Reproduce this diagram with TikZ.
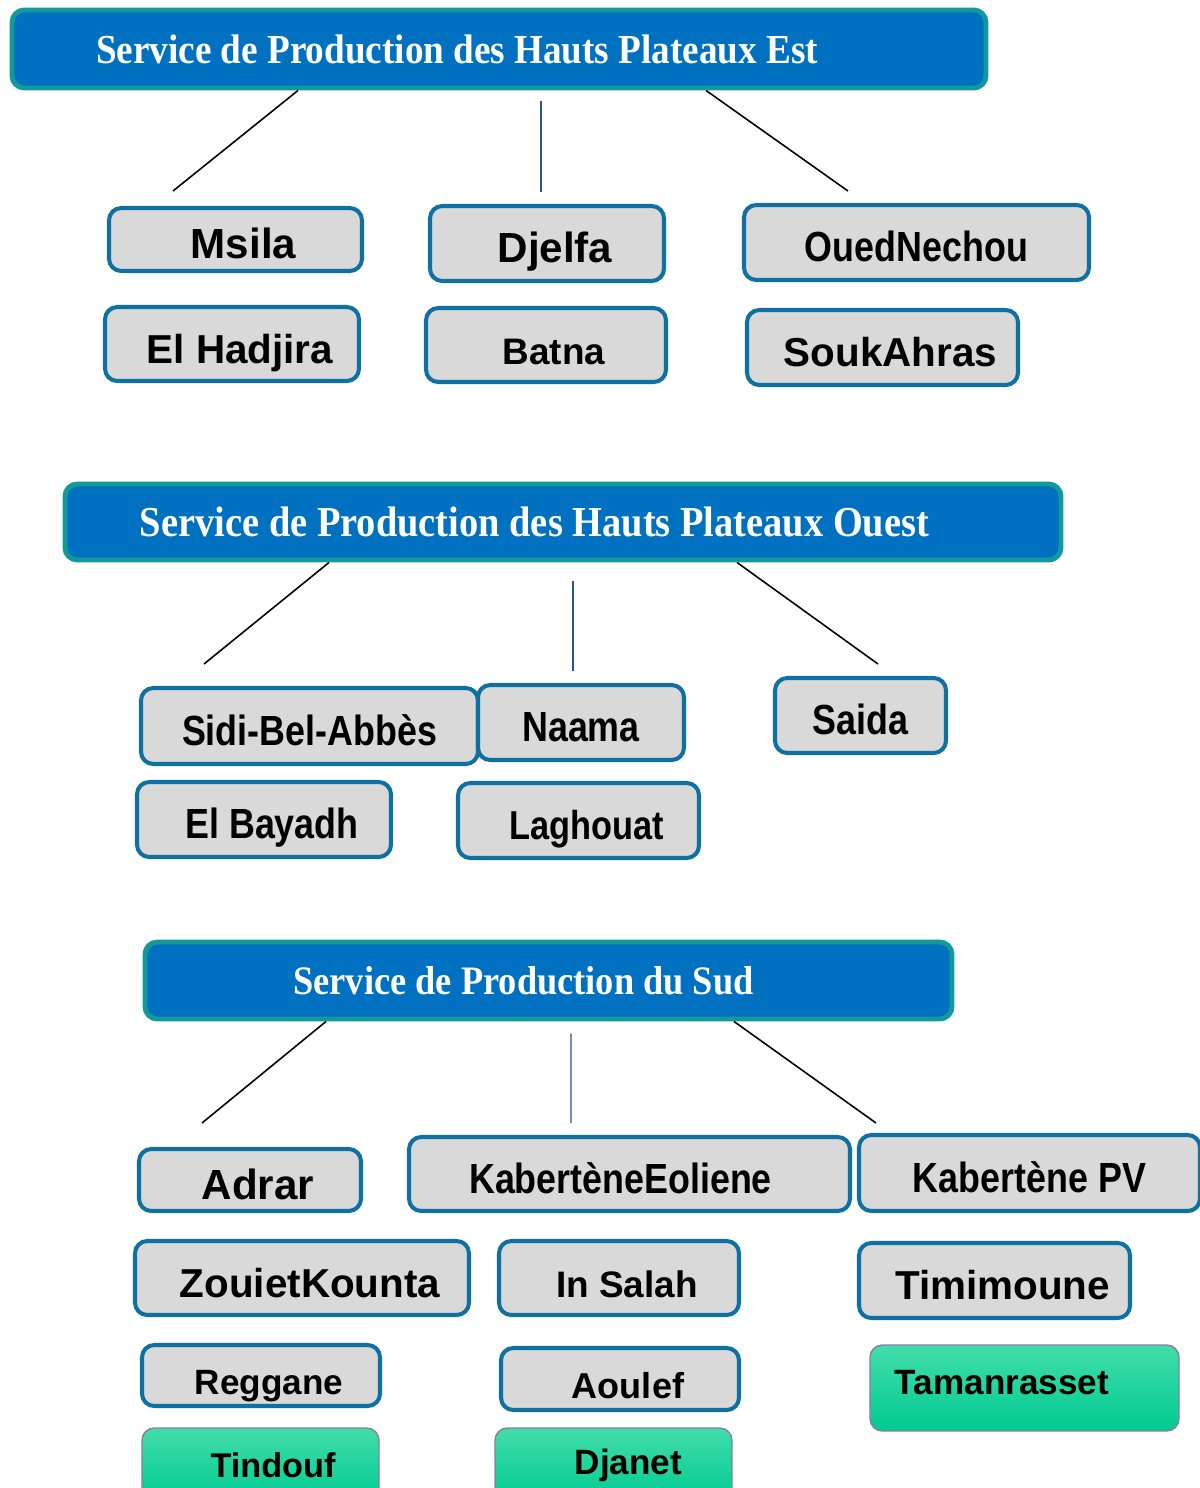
\documentclass[tikz,border=0pt]{standalone}
\usepackage{fontspec}
\setmainfont{Liberation Serif}
\newfontfamily\servserif[FakeStretch=0.9]{Liberation Serif}
\newfontfamily\villesans{Liberation Sans}
\newfontfamily\villenarrow[FakeStretch=0.85]{Liberation Sans}
\usepackage{xcolor}
\usetikzlibrary{positioning}

\definecolor{servblue}{HTML}{0070C0}
\definecolor{servedge}{HTML}{12999A}
\definecolor{villegrey}{HTML}{D9D9D9}
\definecolor{villeedge}{HTML}{0E71A1}
\definecolor{oasistop}{HTML}{42DDAA}
\definecolor{oasisbot}{HTML}{00CB90}
\definecolor{oasisedge}{HTML}{8A7CA6}
\definecolor{stemblue}{HTML}{2C5390}

\newcommand{\servtitle}[1]{\servserif\bfseries\fontsize{#1}{#1}\selectfont}
\newcommand{\villereg}[1]{\villesans\bfseries\fontsize{#1}{#1}\selectfont}
\newcommand{\villenar}[1]{\villenarrow\bfseries\fontsize{#1}{#1}\selectfont}

\begin{document}
\begin{tikzpicture}[x=0.02cm, y=-0.02cm]
\tikzstyle{boxsize} = [minimum width={(#1-4)*0.02cm}]
\tikzstyle{boxhigh} = [minimum height={(#1-4)*0.02cm}]
\tikzstyle{service} = [rectangle, rounded corners=7pt, fill=servblue, draw=servedge, line width=2.8pt, text=white, inner sep=0pt, font=\servtitle{23}]
\tikzstyle{ville} = [rectangle, rounded corners=7pt, fill=villegrey, draw=villeedge, line width=2.3pt, inner sep=0pt, text height=22pt, text depth=0pt]
\tikzstyle{nudge} = [execute at begin node=\hspace*{0.32cm}]
\tikzstyle{oasis} = [rectangle, rounded corners=7pt, top color=oasistop, bottom color=oasisbot, draw=oasisedge, line width=0.8pt, inner sep=0pt]
\tikzstyle{branch} = [line width=0.9pt, black]
\tikzstyle{stem} = [line width=0.8pt, stemblue]

\useasboundingbox (0,0) rectangle (1200,1488);

% Hauts Plateaux Est
\node (hpe) [service, boxsize=978, boxhigh=82, font=\servtitle{23.5}] at (499,49) {Service de Production des Hauts Plateaux Est\hspace*{1.68cm}};
\node (msila) [ville, nudge, boxsize=257, boxhigh=67, font=\villereg{24}] at (235.5,239.5) {Msila};
\node (djelfa) [ville, nudge, boxsize=238, boxhigh=79, font=\villereg{24}] at (547,243.5) {Djelfa};
\node (oued) [ville, boxsize=349, boxhigh=79, font=\villenar{24}] at (916.5,242.5) {OuedNechou};
\node (hadjira) [ville, nudge, boxsize=258, boxhigh=78, font=\villereg{23}] at (232,344) {El Hadjira};
\node (batna) [ville, nudge, boxsize=244, boxhigh=78, font=\villereg{21}] at (546,345) {Batna};
\node (souk) [ville, nudge, boxsize=275, boxhigh=79, font=\villereg{23}] at (882.5,347.5) {SoukAhras};

\coordinate (hpeL) at (173,191);
\coordinate (hpeM) at (541,192);
\coordinate (hpeR) at (848,191);
\draw [branch] (hpe.south) ++(-201,0) -- (hpeL);
\draw [stem] (hpe.south) ++(42,11) -- (hpeM);
\draw [branch] (hpe.south) ++(207,0) -- (hpeR);

% Hauts Plateaux Ouest
\node (hpo) [service, boxsize=1000, boxhigh=80, font=\servtitle{24.3}] at (563,522) {Service de Production des Hauts Plateaux Ouest\hspace*{1.14cm}};
\node (sidi) [ville, boxsize=341, boxhigh=80, font=\villenar{24}] at (309.5,726) {Sidi-Bel-Abbès};
\node (naama) [ville, boxsize=210, boxhigh=79, font=\villenar{24}] at (581,722.5) {Naama};
\node (saida) [ville, boxsize=175, boxhigh=79, font=\villenar{24}] at (860.5,715.5) {Saida};
\node (bayadh) [ville, nudge, boxsize=258, boxhigh=79, font=\villenar{24}] at (264,819.5) {El Bayadh};
\node (laghouat) [ville, nudge, boxsize=245, boxhigh=79, font=\villenar{23}] at (578.5,820.5) {Laghouat};

\coordinate (hpoL) at (204,664);
\coordinate (hpoM) at (573,671);
\coordinate (hpoR) at (878,664);
\draw [branch] (hpo.south) ++(-234,0) -- (hpoL);
\draw [stem] (hpo.south) ++(10,19) -- (hpoM);
\draw [branch] (hpo.south) ++(174,0) -- (hpoR);

% Sud
\node (sud) [service, boxsize=811, boxhigh=81] at (548.5,980.5) {Service de Production du Sud\hspace*{1cm}};
\node (adrar) [ville, nudge, boxsize=226, boxhigh=66, font=\villereg{24}] at (250,1180) {Adrar};
\node (kabeol) [ville, boxsize=445, boxhigh=78, font=\villenar{24}] at (629.5,1174) {KabertèneEoliene\hspace*{0.36cm}};
\node (kabpv) [ville, boxsize=345, boxhigh=80, font=\villenar{24}] at (1029.5,1173) {Kabertène PV};
\node (zouiet) [ville, nudge, boxsize=338, boxhigh=78, font=\villereg{23}] at (302,1278) {ZouietKounta};
\node (insalah) [ville, nudge, boxsize=244, boxhigh=78, font=\villereg{21}] at (619,1278) {In Salah};
\node (timimoune) [ville, nudge, boxsize=275, boxhigh=79, font=\villereg{23}] at (994.5,1280.5) {Timimoune};
\node (reggane) [ville, nudge, boxsize=242, boxhigh=65, font=\villereg{20}] at (261,1375.5) {Reggane};
\node (aoulef) [ville, nudge, boxsize=242, boxhigh=66, font=\villereg{20.5}] at (620,1379) {Aoulef};
\node (tamanrasset) [oasis, boxsize=313, boxhigh=90, font=\villereg{20}] at (1024.5,1388) {Tamanrasset\hspace*{0.9cm}\rule[-0.24cm]{0pt}{0pt}};
\node (tindouf) [oasis, boxsize=241, boxhigh=78, font=\villereg{19.5}] at (260.5,1465) {\hspace*{0.5cm}Tindouf};
\node (djanet) [oasis, boxsize=241, boxhigh=78, font=\villereg{20}] at (613.5,1465) {\hspace*{0.6cm}Djanet};

\coordinate (sudL) at (202,1123);
\coordinate (sudM) at (571,1123);
\coordinate (sudR) at (876,1123);
\draw [branch] (sud.south) ++(-222.5,0) -- (sudL);
\draw [stem] (sud.south) ++(22.5,12) -- (sudM);
\draw [branch] (sud.south) ++(185.5,0) -- (sudR);

\end{tikzpicture}
\end{document}
